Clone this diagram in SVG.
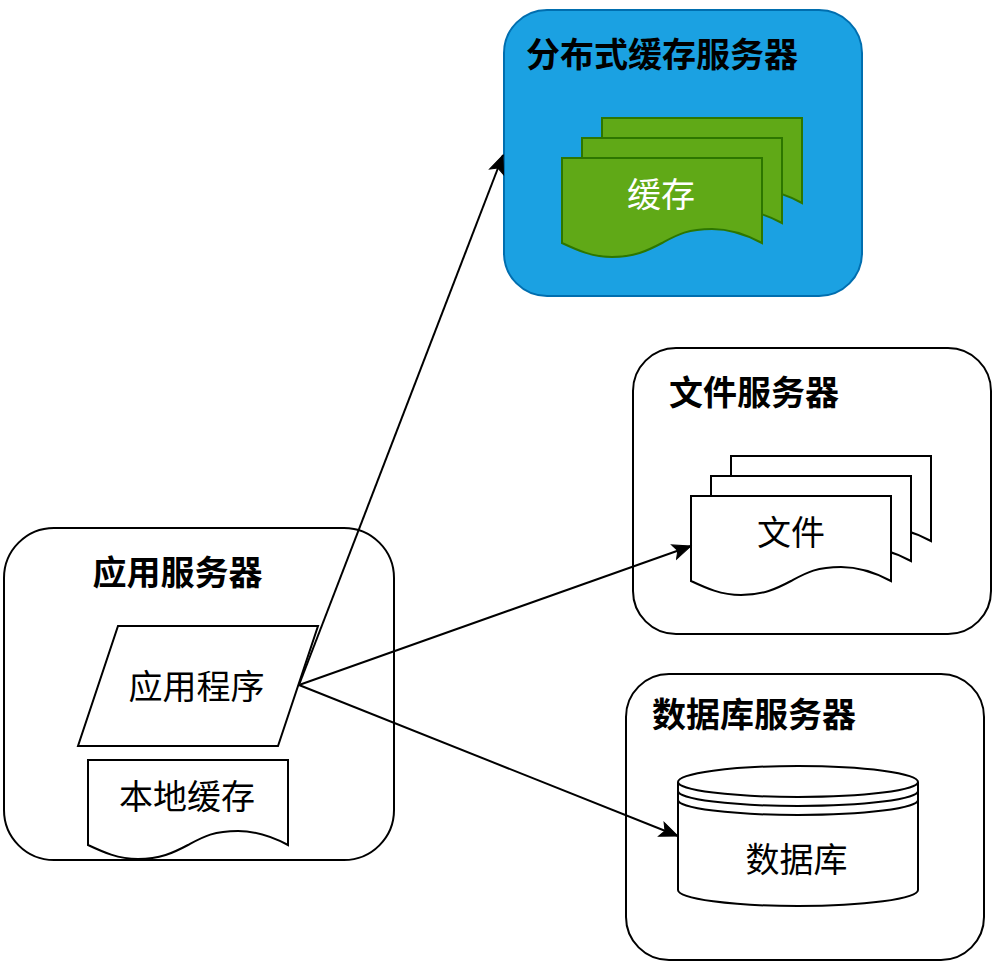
<svg xmlns="http://www.w3.org/2000/svg" width="1003" height="973" viewBox="0 0 1003 973">
<style>
text{font-family:"Noto Sans CJK SC","Liberation Sans",sans-serif;font-size:34px;fill:#000;text-anchor:middle}
.t{font-weight:700}
.w{fill:#fff}
.n{fill:#fff;stroke:#000;stroke-width:2}
.b{fill:#1ba1e2;stroke:#006eaf;stroke-width:2}
.g{fill:#60a917;stroke:#2d7600;stroke-width:2}
.c{fill:none;stroke:#000;stroke-width:2}
</style>
<defs>
<path id="doc" d="M0 0H200V85C185 77 168 71 150 71C125 71 115 77 100 85C85 93 72 99 50 99C30 99 15 92 0 85Z"/>
<marker id="a" markerUnits="userSpaceOnUse" markerWidth="22" markerHeight="18" refX="19" refY="9" orient="auto">
<path d="M19 9L1 1.5L5 9L1 16.5Z" fill="#000" stroke="#000" stroke-width="1"/>
</marker>
</defs>
<g id="cache-server">
<rect class="b" x="504" y="10" width="358" height="286" rx="43" ry="43"/>
<text class="t" x="662" y="67">分布式缓存服务器</text>
</g>
<g id="cache-doc">
<use href="#doc" class="g" x="602" y="118"/>
<use href="#doc" class="g" x="582" y="138"/>
<use href="#doc" class="g" x="562" y="158"/>
<text class="w" x="661" y="207">缓存</text>
</g>
<g id="file-server">
<rect class="n" x="633" y="348" width="358" height="286" rx="43" ry="43"/>
<text class="t" x="754" y="405">文件服务器</text>
</g>
<g id="file-doc">
<use href="#doc" class="n" x="731" y="456"/>
<use href="#doc" class="n" x="711" y="476"/>
<use href="#doc" class="n" x="691" y="496"/>
<text x="791" y="545">文件</text>
</g>
<g id="db-server">
<rect class="n" x="626" y="674" width="358" height="286" rx="43" ry="43"/>
<text class="t" x="754" y="727">数据库服务器</text>
</g>
<g id="database">
<path class="n" d="M678 782A120 16 0 0 1 918 782V890A120 16 0 0 1 678 890Z"/>
<path class="c" d="M678 782A120 15 0 0 0 918 782M678 791A120 15 0 0 0 918 791M678 800A120 15 0 0 0 918 800"/>
<text x="796.500" y="872">数据库</text>
</g>
<g id="app-server">
<rect class="n" x="4" y="528" width="390" height="332" rx="50" ry="50"/>
<text class="t" x="177.500" y="585">应用服务器</text>
</g>
<g id="app">
<path class="n" d="M118 626H318L278 746H78Z"/>
<text x="196.500" y="699">应用程序</text>
</g>
<g id="local-cache">
<use href="#doc" class="n" x="88" y="760"/>
<text x="187" y="809">本地缓存</text>
</g>
<g id="connectors">
<path class="c" marker-end="url(#a)" d="M299 685L503 155"/>
<path class="c" marker-end="url(#a)" d="M299 685L691 546"/>
<path class="c" marker-end="url(#a)" d="M299 685L678 836"/>
</g>
</svg>
